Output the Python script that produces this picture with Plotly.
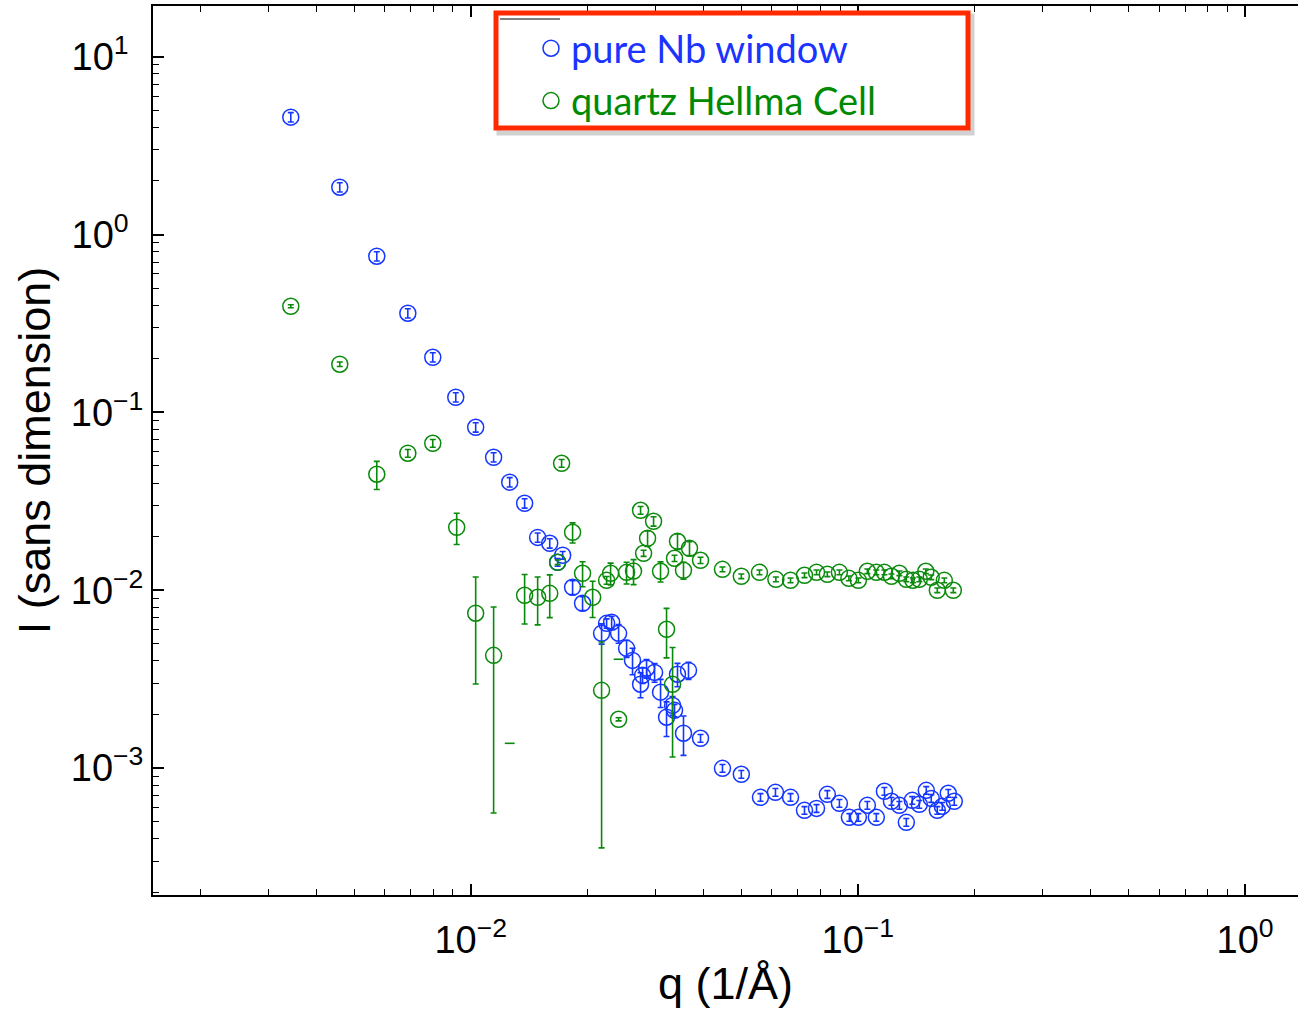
import plotly.graph_objects as go

# ---------------- data ----------------
nb_q = [0.00343, 0.00459, 0.00572, 0.00688, 0.00798, 0.00915, 0.0103, 0.01146, 0.01261, 0.01378,
        0.01489, 0.0160, 0.01677, 0.01728, 0.01833, 0.01945, 0.02178, 0.02244, 0.02312, 0.0241,
        0.02527, 0.02618, 0.02746, 0.02779, 0.02846, 0.02985, 0.03093, 0.03205, 0.03322, 0.03361,
        0.03421, 0.03545, 0.03652, 0.03923, 0.0447, 0.0500, 0.05603, 0.06125, 0.0670, 0.0728,
        0.0782, 0.0834, 0.0896, 0.09508, 0.1003, 0.1058, 0.1116, 0.1171, 0.1221, 0.1280,
        0.1334, 0.1382, 0.1441, 0.1502, 0.1547, 0.1604, 0.1652, 0.1712, 0.1774]
nb_I = [4.57, 1.845, 0.755, 0.361, 0.204, 0.1216, 0.0824, 0.0559, 0.0405, 0.0308,
        0.0198, 0.01835, 0.01435, 0.01572, 0.01038, 0.00844, 0.00572, 0.00651, 0.0066, 0.00572,
        0.00471, 0.00403, 0.00296, 0.00332, 0.00364, 0.00345, 0.00267, 0.00193, 0.00225, 0.00211,
        0.00337, 0.00157, 0.00354, 0.00147, 0.000996, 0.000922, 0.000684, 0.00073, 0.000684, 0.000578,
        0.000593, 0.000711, 0.000633, 0.000528, 0.000528, 0.000617, 0.000528, 0.00074, 0.00065, 0.000617,
        0.000495, 0.000658, 0.000625, 0.000749, 0.000675, 0.000578, 0.000609, 0.000721, 0.00065]
nb_rel_err = [0.06, 0.06, 0.06, 0.06, 0.06, 0.06, 0.06, 0.06, 0.06, 0.06,
              0.06, 0.06, 0.05, 0.05, 0.09, 0.09, 0.13, 0.06, 0.08, 0.12,
              0.11, 0.17, 0.16, 0.10, 0.12, 0.12, 0.18, 0.22, 0.12, 0.08,
              0.15, 0.25, 0.11, 0.05, 0.05, 0.05, 0.05, 0.05, 0.05, 0.05,
              0.05, 0.05, 0.05, 0.05, 0.05, 0.05, 0.05, 0.05, 0.05, 0.05,
              0.05, 0.05, 0.05, 0.05, 0.05, 0.05, 0.05, 0.05, 0.05]

hc_q = [0.00343, 0.00459, 0.00572, 0.00688, 0.00798, 0.0092, 0.0103, 0.01146, 0.01378, 0.01489,
        0.0160, 0.01677, 0.01717, 0.01833, 0.01945, 0.02065, 0.02178, 0.02244, 0.02298, 0.0241,
        0.02527, 0.02634, 0.02746, 0.02796, 0.02863, 0.02967, 0.03093, 0.03205, 0.03322, 0.03361,
        0.03421, 0.03545, 0.03674, 0.03923, 0.0447, 0.0500, 0.0557, 0.0614, 0.0670, 0.0728,
        0.0782, 0.0834, 0.0896, 0.0948, 0.1003, 0.1058, 0.1116, 0.1171, 0.1221, 0.1280,
        0.1334, 0.1387, 0.1441, 0.1498, 0.1547, 0.1604, 0.1672, 0.1764]
hc_I = [0.395, 0.1865, 0.0449, 0.0589, 0.0670, 0.02258, 0.00742, 0.0043, 0.00936, 0.00912,
        0.0096, 0.01435, 0.0517, 0.02117, 0.01245, 0.00912, 0.002735, 0.01136, 0.01245, 0.00188,
        0.0126, 0.0128, 0.02814, 0.01613, 0.01958, 0.0244, 0.01277, 0.00603, 0.002956, 0.01511,
        0.01884, 0.01294, 0.0172, 0.01473, 0.0131, 0.01197, 0.0126, 0.01151, 0.01136, 0.01213,
        0.0126, 0.01229, 0.0126, 0.01166, 0.01136, 0.01277, 0.0126, 0.0126, 0.01197, 0.01245,
        0.01151, 0.01136, 0.01151, 0.01277, 0.01182, 0.00999, 0.01136, 0.00999]
hc_rel_err = [0.02, 0.03, 0.18, 0.05, 0.05, 0.20, 0.60, 0.87, 0.31, 0.30,
              0.27, 0.03, 0.05, 0.13, 0.16, 0.23, 0.87, 0.05, 0.14, 0.02,
              0.14, 0.16, 0.05, 0.04, 0.10, 0.06, 0.13, 0.31, 0.61, 0.04,
              0.10, 0.11, 0.09, 0.04, 0.03, 0.03, 0.03, 0.03, 0.03, 0.03,
              0.03, 0.03, 0.03, 0.03, 0.03, 0.03, 0.03, 0.03, 0.03, 0.03,
              0.03, 0.03, 0.03, 0.03, 0.03, 0.03, 0.03, 0.03]
# points of the quartz cell with non-positive intensity: only the upper error cap is visible
hc_neg_q = [0.01261, 0.0241]
hc_neg_upper = [0.001377, 0.00409]

legend_names = ["pure Nb window", "quartz Hellma Cell"]
x_tickvals = [0.01, 0.1, 1]
x_ticktext = ["10<sup>−2</sup>", "10<sup>−1</sup>", "10<sup>0</sup>"]
y_tickvals = [0.001, 0.01, 0.1, 1, 10]
y_ticktext = ["10<sup>−3</sup>", "10<sup>−2</sup>", "10<sup>−1</sup>",
              "10<sup>0\u00a0\u00a0</sup>", "10<sup>1\u00a0\u00a0</sup>"]
x_title = "q (1/Å)"
y_title = "I (sans dimension)"

# ---------------- styles ----------------
BLUE = "#1436ff"
GREEN = "#0a8a0a"
LEG_BLUE = "#1a33ff"
LEG_GREEN = "#008a00"
TICK_FONT = dict(family="Liberation Sans, Arial, sans-serif", size=38, color="black")
TITLE_FONT = dict(family="Liberation Sans, Arial, sans-serif", size=45, color="black")

W, H = 1298, 1015
ML, MR, MT, MB = 153, 0, 6, 120
PW, PH = W - ML - MR, H - MT - MB


def px(xp):
    return (xp - ML) / PW


def py(yp):
    return (H - MB - yp) / PH


nb_err = [i * r for i, r in zip(nb_I, nb_rel_err)]
hc_err = [i * r for i, r in zip(hc_I, hc_rel_err)]

fig = go.Figure()
fig.add_trace(go.Scatter(
    x=nb_q, y=nb_I, mode="markers",
    name=f'<span style="color:{LEG_BLUE}">{legend_names[0]}</span>',
    marker=dict(symbol="circle-open", size=16, color=BLUE, line=dict(width=1.5, color=BLUE)),
    error_y=dict(type="data", array=nb_err, color=BLUE, thickness=1.6, width=3),
))
fig.add_trace(go.Scatter(
    x=hc_q, y=hc_I, mode="markers",
    name=f'<span style="color:{LEG_GREEN}">{legend_names[1]}</span>',
    marker=dict(symbol="circle-open", size=16, color=GREEN, line=dict(width=1.5, color=GREEN)),
    error_y=dict(type="data", array=hc_err, color=GREEN, thickness=1.6, width=3),
))
fig.add_trace(go.Scatter(
    x=hc_neg_q, y=hc_neg_upper, mode="markers", showlegend=False, hoverinfo="skip",
    marker=dict(symbol="line-ew", size=7, color=GREEN, line=dict(width=1.6, color=GREEN)),
))

# minor tick positions (2..9 within each decade)
x_minor = [k * 10.0 ** e for e in range(-3, 1) for k in range(2, 10)]
y_minor = [k * 10.0 ** e for e in range(-4, 2) for k in range(2, 10)]

axis_common = dict(
    type="log", showgrid=False, zeroline=False,
    showline=True, linewidth=2, linecolor="black",
    ticks="inside", ticklen=11, tickwidth=1.5, tickcolor="black",
    tickfont=TICK_FONT, tickmode="array",
)
fig.update_xaxes(
    **axis_common, mirror="ticks",
    range=[-2.8206, 0.1368],
    tickvals=x_tickvals, ticktext=x_ticktext,
    ticklabelstandoff=10,
    minor=dict(tickmode="array", tickvals=x_minor, ticks="inside", ticklen=6,
               tickwidth=1.2, tickcolor="black", showgrid=False),
    title=dict(text=x_title, font=TITLE_FONT, standoff=8),
)
fig.update_yaxes(
    **axis_common, mirror=False,
    range=[-3.714, 1.285],
    tickvals=y_tickvals, ticktext=y_ticktext,
    minor=dict(tickmode="array", tickvals=y_minor, ticks="inside", ticklen=6,
               tickwidth=1.2, tickcolor="black", showgrid=False),
    title=dict(text=y_title, font=TITLE_FONT, standoff=6),
)

shapes = [
    # drop shadow of legend box
    dict(type="rect", xref="paper", yref="paper", layer="above",
         x0=px(499), x1=px(972), y0=py(133), y1=py(16),
         line=dict(color="rgba(0,0,0,0.18)", width=5), fillcolor="rgba(0,0,0,0)"),
    # legend box
    dict(type="rect", xref="paper", yref="paper", layer="above",
         x0=px(496), x1=px(968), y0=py(128), y1=py(13),
         line=dict(color="#ff2a00", width=5), fillcolor="white"),
    # small leftover frame segment
    dict(type="line", xref="paper", yref="paper", layer="above",
         x0=px(500), x1=px(560), y0=py(19), y1=py(19),
         line=dict(color="black", width=1.2)),
]

fig.update_layout(
    width=W, height=H,
    margin=dict(l=ML, r=MR, t=MT, b=MB, pad=0),
    paper_bgcolor="white", plot_bgcolor="white",
    shapes=shapes,
    showlegend=True,
    legend=dict(
        x=px(531), y=py(17), xanchor="left", yanchor="top",
        bgcolor="rgba(0,0,0,0)", borderwidth=0,
        font=dict(family="Lato, Open Sans, sans-serif", size=38),
        tracegroupgap=0,
    ),
)

fig.write_html("out.html", config={"displayModeBar": False},
               post_script="document.body.style.margin='0px';")
